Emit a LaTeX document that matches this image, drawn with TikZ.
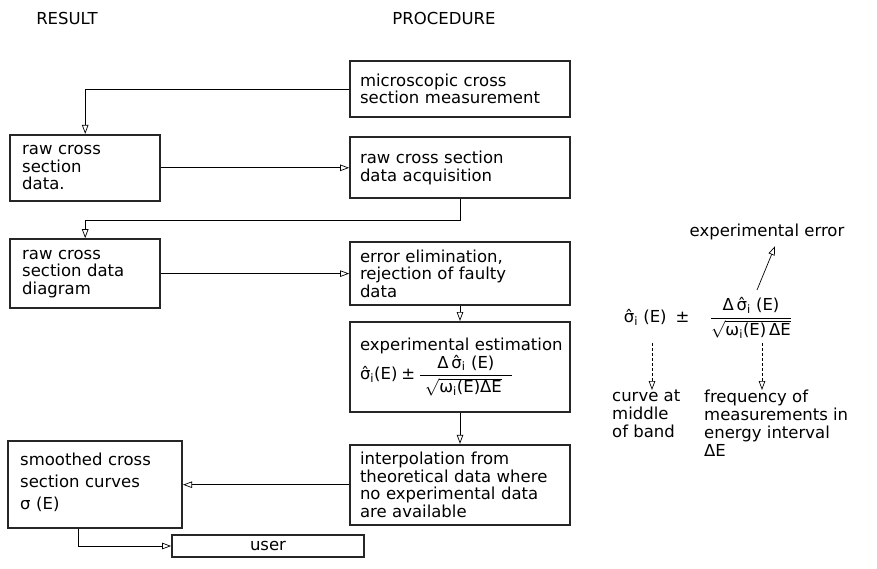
\documentclass[tikz,border=0pt]{standalone}
\usepackage{amsmath}
\usepackage{fontspec}
\setmainfont{DejaVu Sans}
\usetikzlibrary{arrows.meta,positioning}
\newcommand{\boxfont}{\fontsize{16.5}{17.5}\selectfont}
\newcommand{\sighat}{\text{σ̂}_{\text{i}}}

\begin{document}
\begin{tikzpicture}[x=1pt,y=-1pt,
  proc/.style={draw=black!85,line width=1.8pt,align=left,font=\boxfont,text width=200pt,
    inner xsep=10pt,inner ysep=2pt},
  res/.style={proc,text width=126pt,inner xsep=12pt},
  head/.style={font=\boxfont,inner sep=0pt},
  note/.style={font=\fontsize{16.5}{18}\selectfont,align=left,inner sep=0pt},
  arr/.style={-{Triangle[open,length=9pt,width=6.5pt]},line width=0.7pt},
  darr/.style={arr,densely dashed}]
  \useasboundingbox (0,0) rectangle (877,568);
  \node[head] (reshead) at (67,18) {RESULT};
  \node[head] (prochead) at (444,18) {PROCEDURE};
  % procedure column
  \node[proc,minimum height=56pt] (meas) at (460,89) {microscopic cross\\section measurement};
  \node[proc,minimum height=61pt,below=18.5pt of meas] (acq) {raw cross section\\data acquisition};
  \node[proc,minimum height=63pt,below=42pt of acq] (elim) {error elimination,\\rejection of faulty\\data};
  \node[proc,minimum height=90pt,below=15pt of elim] (est) {\mbox{experimental estimation}\\
    $\sighat\text{(E)}\mathbin{\text{±}}\dfrac{\text{Δ}\,\sighat\text{ (E)}}{\;\sqrt{\text{ω}_{\text{i}}\text{(E)ΔE}}\;\;}$\rule[-14pt]{0pt}{1pt}};
  \node[proc,minimum height=80pt,below=31pt of est] (interp) {interpolation from\\theoretical data where\\
    no experimental data\\are available};
  % result column
  \node[res,minimum height=66pt,left=188pt of acq] (rawdata) {raw cross\\section\\data.};
  \node[res,minimum height=69pt,left=188pt of elim] (rawdiag) {raw cross\\section data\\diagram};
  \node[res,text width=150pt,minimum height=87pt,font=\fontsize{16.5}{22}\selectfont,
    left=166pt of interp] (smooth) {smoothed cross\\section curves\\σ (E)\rule[-6pt]{0pt}{1pt}};
  \node[res,text width=168pt,align=center,minimum height=22pt,inner ysep=0pt,
    below=5pt of smooth.south east,anchor=north west,xshift=-12pt] (user) {user};
  % connectors
  \draw[arr] (meas.west) -| (rawdata.north);
  \draw[arr] (rawdata) -- (acq);
  \draw[arr] (acq.south) -- ++(0,21) -| (rawdiag.north);
  \draw[arr] (rawdiag) -- (elim);
  \draw[arr] (elim) -- (est);
  \draw[arr] (est) -- (interp);
  \draw[arr] (interp) -- (smooth);
  \draw[arr] ([xshift=-17pt]smooth.south) |- (user.west);
  % explanation of the estimate
  \node[note] (formula) at (708,318)
    {$\sighat\text{ (E) }\mathbin{\text{±}}\quad\dfrac{\text{Δ}\,\sighat\text{ (E)}}{\sqrt{\text{ω}_{\text{i}}\text{(E)}\,\text{ΔE}}}$};
  \node[note,inner ysep=6pt] (experr) at (767,232) {experimental error};
  \node[note,anchor=north west] (curve) at (612,390) {curve at\\middle\\of band};
  \node[note,anchor=north west] (freq) at (704,390) {frequency of\\measurements in\\energy interval\\ΔE};
  \coordinate (numtop) at (757,290);
  \coordinate (lhsfoot) at (652,343);
  \coordinate (denfoot) at (762,343);
  \draw[arr] (numtop) -- ([xshift=8pt]experr.south);
  \draw[darr] (lhsfoot) -- (lhsfoot |- curve.north);
  \draw[darr] (denfoot) -- (denfoot |- freq.north);
\end{tikzpicture}
\end{document}
